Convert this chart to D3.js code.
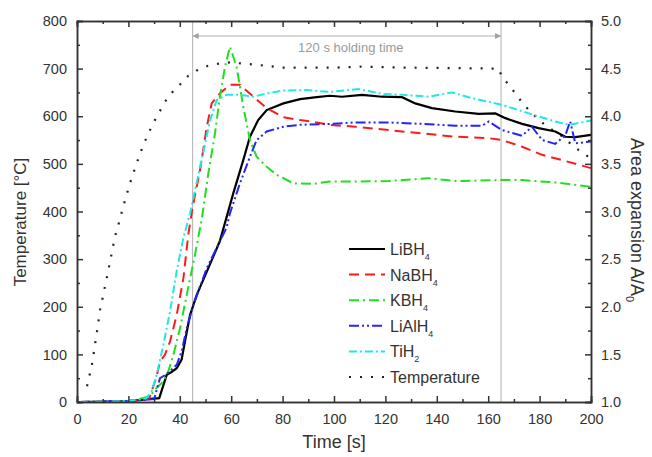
<!DOCTYPE html>
<html>
<head>
<meta charset="utf-8">
<script src="https://cdn.jsdelivr.net/npm/d3@7"></script>
<style>
  body { margin: 0; background: #fff; }
  svg text { font-family: "Liberation Sans", Arial, sans-serif; fill: #333; }
</style>
</head>
<body>
<div id="chart"></div>
<script>
// Data: [time s, A/A0]
const liBH4 = [[1,1.0],[20,1.01],[29.7,1.035],[32,1.04],[34.9,1.285],[36.8,1.315],[38.8,1.355],[40.7,1.445],[42,1.635],[44,1.915],[46.6,2.125],[51.1,2.405],[55.6,2.69],[60.8,3.19],[64.7,3.54],[67.3,3.785],[70.5,3.96],[73.8,4.065],[80.3,4.135],[86.8,4.18],[93.3,4.2],[98.4,4.215],[103.1,4.205],[110.9,4.225],[118.7,4.205],[126.5,4.2],[131.6,4.135],[138.1,4.085],[147.2,4.05],[156.3,4.025],[162.8,4.03],[166.7,3.98],[173.2,3.92],[179.6,3.875],[186.1,3.84],[190,3.785],[193.9,3.78],[200,3.805]];
const naBH4 = [[1,1.0],[20,1.01],[28,1.03],[31,1.27],[32.3,1.425],[34.2,1.495],[36.2,1.635],[38.8,1.915],[41.4,2.3],[43.3,2.755],[45,3.05],[47.9,3.435],[50.5,3.89],[52.4,4.135],[55.6,4.24],[59.5,4.33],[63.4,4.33],[68.6,4.205],[73.8,4.085],[80.3,3.99],[86.8,3.96],[93.3,3.935],[98.4,3.91],[108.3,3.89],[121.3,3.855],[134.2,3.82],[147.2,3.785],[160.2,3.77],[165.4,3.75],[173.2,3.68],[181,3.595],[188.7,3.54],[200,3.455]];
const kBH4 = [[1,1.0],[20,1.005],[28.4,1.06],[31,1.15],[33.6,1.215],[35.5,1.32],[37.5,1.495],[40.1,1.775],[42.7,2.125],[45.9,2.545],[47.9,2.83],[48.5,2.91],[51.1,3.4],[53.7,3.82],[55.6,4.205],[57.6,4.52],[59.5,4.73],[62.1,4.52],[64.7,4.1],[67.3,3.75],[69.9,3.575],[73.8,3.47],[77.7,3.385],[84.2,3.295],[92,3.29],[98.4,3.315],[108.3,3.315],[121.3,3.32],[136.8,3.35],[147.2,3.32],[165.4,3.33],[173.2,3.33],[186.1,3.305],[200,3.26]];
const liAlH4 = [[1,1.0],[20,1.01],[30,1.03],[32.3,1.25],[35,1.295],[38.8,1.39],[40.7,1.53],[42.7,1.775],[45.3,2.02],[50.5,2.405],[58.2,2.83],[59.5,2.98],[63.4,3.295],[67.3,3.575],[69.9,3.75],[73.8,3.84],[80.3,3.89],[86.8,3.91],[98.4,3.92],[108.3,3.935],[121.3,3.935],[134.2,3.92],[147.2,3.9],[157.6,3.9],[160.2,3.945],[165.4,3.855],[173.2,3.795],[177,3.89],[181,3.75],[186.1,3.71],[190,3.8],[191.9,3.945],[193.9,3.715],[200,3.735]];
const tiH2 = [[1,1.0],[20,1.01],[27,1.04],[29,1.11],[31,1.285],[33.6,1.6],[36.2,1.95],[38.8,2.375],[41.4,2.725],[44,2.98],[47.9,3.47],[51.8,3.96],[54.4,4.17],[58.2,4.225],[63.4,4.225],[68.6,4.205],[73.8,4.24],[80.3,4.27],[89.4,4.275],[98.4,4.255],[109.6,4.285],[118.7,4.235],[126.5,4.225],[136.8,4.205],[145.9,4.25],[153.7,4.19],[165.4,4.12],[175.8,4.03],[186.1,3.945],[191.3,3.91],[200,3.955]];
// [time s, °C]
const temperature = [[3.9,33],[5.8,78],[7.7,145],[9,194],[11.3,253],[13.1,301],[14.8,348],[16.1,372],[18.7,424],[20.6,459],[23.2,501],[25.8,540],[29,578],[31,599],[34.9,636],[37,650],[40,666],[43.3,685],[46.6,696],[51,706],[55.6,711],[59.5,713],[70,708],[80,702],[100,702],[110,704],[130,702],[164,700],[165.4,683],[168.6,662],[172.5,634],[175.8,613],[179,596],[182.9,578],[187.4,564],[191.9,543],[195.2,529],[199,515]];

const holdStart = 45, holdEnd = 165;
const xTicks = [0, 20, 40, 60, 80, 100, 120, 140, 160, 180, 200];
const yTicksLeft = [0, 100, 200, 300, 400, 500, 600, 700, 800];
const yTicksRight = [1.0, 1.5, 2.0, 2.5, 3.0, 3.5, 4.0, 4.5, 5.0];

const series = [
  { name: "LiBH", sub: "4", data: liBH4, color: "#000000", dash: null },
  { name: "NaBH", sub: "4", data: naBH4, color: "#ff1a1a", dash: "10 6" },
  { name: "KBH", sub: "4", data: kBH4, color: "#1fe01f", dash: "10 4 2 4" },
  { name: "LiAlH", sub: "4", data: liAlH4, color: "#2424ff", dash: "10 3 2 3 2 3" },
  { name: "TiH", sub: "2", data: tiH2, color: "#1fe8e8", dash: "8 3 2 3" }
];

const width = 652, height = 457;
const margin = { top: 21, right: 61, bottom: 55, left: 77 };

const svg = d3.select("#chart").append("svg")
  .attr("width", width)
  .attr("height", height);

const x = d3.scaleLinear().domain([0, 200]).range([margin.left, width - margin.right]);
const yL = d3.scaleLinear().domain([0, 800]).range([height - margin.bottom, margin.top]);
const yR = d3.scaleLinear().domain([1, 5]).range([height - margin.bottom, margin.top]);

const axisColor = "#333";

// holding-time markers
svg.selectAll("line.hold")
  .data([holdStart, holdEnd])
  .join("line")
  .attr("class", "hold")
  .attr("x1", d => x(d)).attr("x2", d => x(d))
  .attr("y1", yL(800)).attr("y2", yL(0))
  .attr("stroke", "#b0b0b0").attr("stroke-width", 1);

const defs = svg.append("defs");
defs.append("marker")
  .attr("id", "arrow")
  .attr("viewBox", "0 0 10 10")
  .attr("refX", 10).attr("refY", 5)
  .attr("markerWidth", 8).attr("markerHeight", 6)
  .attr("markerUnits", "userSpaceOnUse")
  .attr("orient", "auto-start-reverse")
  .append("path").attr("d", "M0,0L10,5L0,10Z").attr("fill", "#a0a0a0");

const arrowY = 36;
svg.append("line")
  .attr("x1", x(holdStart)).attr("x2", x(holdEnd))
  .attr("y1", arrowY).attr("y2", arrowY)
  .attr("stroke", "#b0b0b0").attr("stroke-width", 1.2)
  .attr("marker-start", "url(#arrow)")
  .attr("marker-end", "url(#arrow)");

svg.append("text")
  .attr("x", x((holdStart + holdEnd) / 2) + 4)
  .attr("y", 52)
  .attr("text-anchor", "middle")
  .style("font-size", "13px")
  .style("fill", "#9a9a9a")
  .text("120 s holding time");

// lines
const lineR = d3.line().x(d => x(d[0])).y(d => yR(d[1]));
const lineL = d3.line().x(d => x(d[0])).y(d => yL(d[1]));

svg.append("path")
  .datum(temperature)
  .attr("d", lineL)
  .attr("fill", "none")
  .attr("stroke", "#222")
  .attr("stroke-width", 2.2)
  .attr("stroke-dasharray", "2 9");

series.forEach(s => {
  svg.append("path")
    .datum(s.data)
    .attr("d", lineR)
    .attr("fill", "none")
    .attr("stroke", s.color)
    .attr("stroke-width", s.dash ? 2 : 2.2)
    .attr("stroke-dasharray", s.dash);
});

// minor ticks (inward)
const minorX = d3.range(10, 200, 20);
const minorL = d3.range(50, 800, 100);
const minorR = d3.range(1.25, 5, 0.5);
svg.append("g").attr("transform", `translate(0,${yL(0)})`)
  .call(d3.axisBottom(x).tickValues(minorX).tickSize(-3).tickFormat(""));
svg.append("g").attr("transform", `translate(0,${yL(800)})`)
  .call(d3.axisTop(x).tickValues(minorX).tickSize(-3).tickFormat(""));
svg.append("g").attr("transform", `translate(${x(0)},0)`)
  .call(d3.axisLeft(yL).tickValues(minorL).tickSize(-3).tickFormat(""));
svg.append("g").attr("transform", `translate(${x(200)},0)`)
  .call(d3.axisRight(yR).tickValues(minorR).tickSize(-3).tickFormat(""));

// major ticks (inward)
const fmtR = d3.format(".1f");
svg.append("g").attr("transform", `translate(0,${yL(0)})`)
  .call(d3.axisBottom(x).tickValues(xTicks).tickSize(-6).tickPadding(12));
svg.append("g").attr("transform", `translate(0,${yL(800)})`)
  .call(d3.axisTop(x).tickValues(xTicks).tickSize(-6).tickFormat(""));
svg.append("g").attr("transform", `translate(${x(0)},0)`)
  .call(d3.axisLeft(yL).tickValues(yTicksLeft).tickSize(-6).tickPadding(10));
svg.append("g").attr("transform", `translate(${x(200)},0)`)
  .call(d3.axisRight(yR).tickValues(yTicksRight).tickSize(-6).tickPadding(10).tickFormat(fmtR));

svg.selectAll(".domain").attr("stroke", axisColor).attr("stroke-width", 1.5);
svg.selectAll(".tick line").attr("stroke", axisColor).attr("stroke-width", 1.5);
svg.selectAll(".tick text")
  .style("font-size", "14.5px")
  .style("font-family", "'Liberation Sans', Arial, sans-serif")
  .attr("fill", axisColor);

// axis titles
svg.append("text")
  .attr("x", x(100)).attr("y", 448)
  .attr("text-anchor", "middle")
  .style("font-size", "18px")
  .text("Time [s]");

svg.append("text")
  .attr("transform", `translate(26,222) rotate(-90)`)
  .attr("text-anchor", "middle")
  .style("font-size", "17px")
  .text("Temperature [°C]");

const rTitle = svg.append("text")
  .attr("transform", `translate(631,220) rotate(90)`)
  .attr("text-anchor", "middle")
  .style("font-size", "18px");
rTitle.append("tspan").text("Area expansion A/A");
rTitle.append("tspan").attr("dy", 5).style("font-size", "11px").text("0");

// legend
const legendItems = series.map(s => ({ name: s.name, sub: s.sub, color: s.color, dash: s.dash, w: s.dash ? 2 : 2.2 }))
  .concat([{ name: "Temperature", sub: "", color: "#222", dash: "2 9", w: 2.2 }]);

const legend = svg.append("g").attr("transform", "translate(349,249)");
const rows = legend.selectAll("g")
  .data(legendItems)
  .join("g")
  .attr("transform", (d, i) => `translate(0,${i * 25.6})`);

rows.append("line")
  .attr("x1", 0).attr("x2", 36)
  .attr("y1", 0).attr("y2", 0)
  .attr("stroke", d => d.color)
  .attr("stroke-width", d => d.w)
  .attr("stroke-dasharray", d => d.dash);

const labels = rows.append("text")
  .attr("x", 41).attr("y", 6)
  .style("font-size", "16px");
labels.append("tspan").text(d => d.name);
labels.append("tspan")
  .attr("dy", 5)
  .style("font-size", "9px")
  .text(d => d.sub);
</script>
</body>
</html>
